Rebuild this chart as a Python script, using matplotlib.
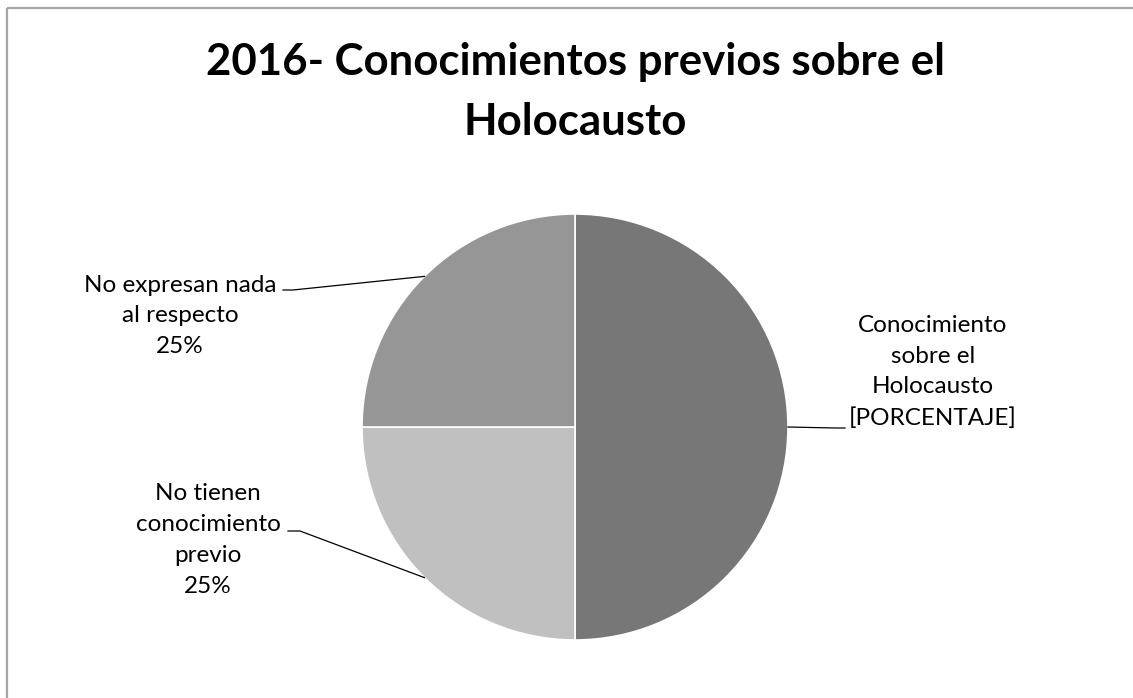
import numpy as np
import matplotlib.pyplot as plt

plt.rcParams['font.family'] = ['Lato', 'DejaVu Sans']

# datos del grafico
categorias = ["Conocimiento\nsobre el\nHolocausto", "No tienen\nconocimiento\nprevio", "No expresan nada\nal respecto"]
valores = [50, 25, 25]
etiquetas_valor = ["[PORCENTAJE]", "25%", "25%"]
colores = ["#777777", "#c0c0c0", "#969696"]

W, H = 1133, 698
fig = plt.figure(figsize=(W / 100, H / 100), dpi=100)
ax = fig.add_axes([0, 0, 1, 1])

cx, cy, r = 575, H - 427, 213
wedges, _ = ax.pie(valores, colors=colores, startangle=90, counterclock=False,
                   center=(cx, cy), radius=r, frame=True,
                   wedgeprops=dict(edgecolor='white', linewidth=1.2))
ax.set_xlim(0, W)
ax.set_ylim(0, H)
ax.set_aspect('equal')
ax.axis('off')

# marco del area del grafico
ax.plot([7, 7], [0, H - 8], color='#a6a6a6', lw=1.6, solid_capstyle='butt')
ax.plot([7, W], [H - 8, H - 8], color='#a6a6a6', lw=1.6, solid_capstyle='butt')

ax.text(575, H - 62, "2016- Conocimientos previos sobre el", ha='center', va='center',
        fontsize=31.5, fontweight='bold')
ax.text(575, H - 122, "Holocausto", ha='center', va='center',
        fontsize=31.5, fontweight='bold')

# posiciones de las etiquetas y del codo de cada linea guia
pos_texto = [(933, H - 372), (208, H - 540), (180, H - 316)]
codo = [(835, H - 428), (300, H - 531), (293, H - 290)]
inicio = [(845, H - 428), (288, H - 531), (283, H - 290)]

for w, cat, val, (tx, ty), (kx, ky), (sx, sy) in zip(wedges, categorias, etiquetas_valor, pos_texto, codo, inicio):
    ang = np.deg2rad((w.theta1 + w.theta2) / 2)
    ex, ey = cx + r * np.cos(ang), cy + r * np.sin(ang)
    ax.plot([ex, kx, sx], [ey, ky, sy], color='black', lw=0.9)
    ax.text(tx, ty, cat + "\n" + val, ha='center', va='center', fontsize=17.5,
            linespacing=1.57)

fig.savefig('out.png', dpi=100)
